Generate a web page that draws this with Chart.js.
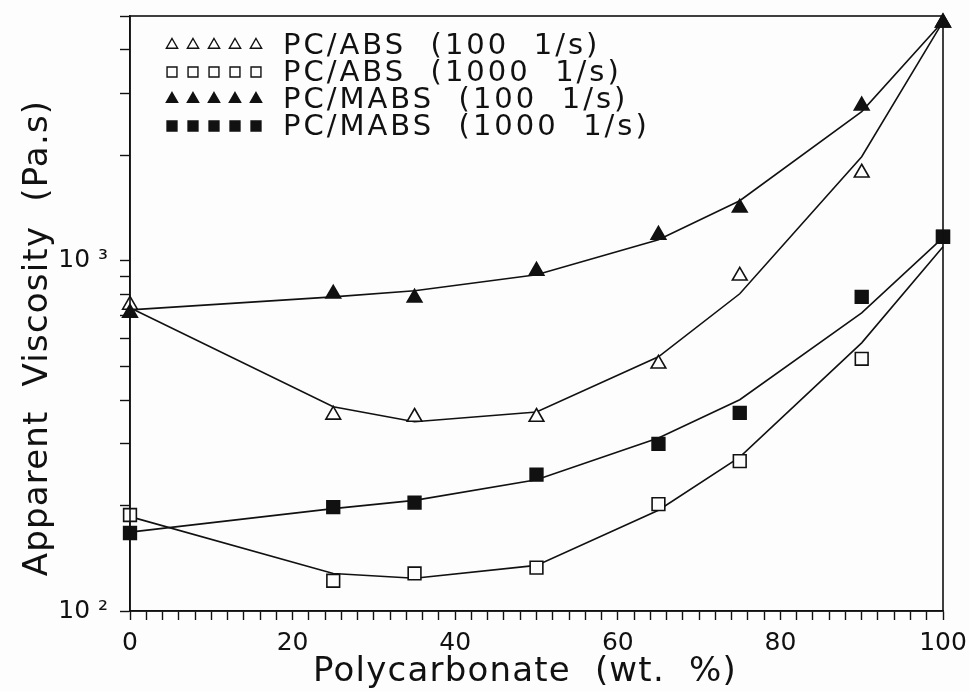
<!DOCTYPE html>
<html>
<head>
<meta charset="utf-8">
<script src="https://cdn.jsdelivr.net/npm/chart.js@4.4.1/dist/chart.umd.min.js"></script>
<style>
  body { margin: 0; background: #fdfdfd; }
  canvas { display: block; }
</style>
</head>
<body>
<canvas id="chart" width="970" height="691"></canvas>
<script>
// ---- values ---- //
const pcWt = [0, 25, 35, 50, 65, 75, 90, 100];

// measured points
const absLow   = [748, 363, 358, 358, 508, 906, 1784, 4786];    // PC/ABS 100 1/s
const absHigh  = [188, 122, 128, 133, 202, 268, 525, 1170];     // PC/ABS 1000 1/s
const mabsLow  = [710, 805, 784, 936, 1186, 1417, 2773, 4786];  // PC/MABS 100 1/s
const mabsHigh = [167, 198, 204, 245, 300, 368, 789, 1172];     // PC/MABS 1000 1/s

// fitted curves
const absLowFit   = [734, 383, 347, 370, 532, 805, 1982, 4820];
const absHighFit  = [186, 128, 124, 135, 194, 275, 583, 1096];
const mabsLowFit  = [724, 789, 821, 912, 1148, 1484, 2666, 4820];
const mabsHighFit = [168, 196, 207, 237, 312, 401, 710, 1164];

const seriesLabels = ["PC/ABS  (100  1/s)", "PC/ABS  (1000  1/s)", "PC/MABS  (100  1/s)", "PC/MABS  (1000  1/s)"];
const xTickLabels = [0, 20, 40, 60, 80, 100];
const yTickValues = [100, 200, 300, 400, 500, 600, 700, 800, 900, 1000, 2000, 3000, 4000, 5000];
const yTickLabels = { 100: "10 \u00b2", 1000: "10 \u00b3" };

const FONT = "DejaVu Sans";
const INK = "#111";

const pts = arr => arr.map((v, i) => ({ x: pcWt[i], y: v }));

// filled markers sit on top of the open ones where they overlap (x = 100)
function markerSet(label, values, style, filled, r) {
  return {
    label: label,
    data: pts(values),
    showLine: false,
    clip: false,
    pointStyle: style,
    pointRadius: r,
    pointBorderWidth: 1.6,
    pointBorderColor: INK,
    pointBackgroundColor: filled ? INK : "#fdfdfd",
    order: filled ? 0 : 1
  };
}

function fitLine(values) {
  return {
    data: pts(values),
    showLine: true,
    clip: false,
    borderColor: INK,
    borderWidth: 1.6,
    pointRadius: 0,
    tension: 0,
    fill: false,
    order: 2
  };
}

// --- legend with five repeated markers per row --- //
const rowLegend = {
  id: "rowLegend",
  afterDraw(chart) {
    const ctx = chart.ctx;
    ctx.save();
    for (let i = 0; i < 4; i++) {
      const ds = chart.data.datasets[i];
      const y = 45 + i * 27;
      ctx.fillStyle = ds.pointBackgroundColor;
      ctx.strokeStyle = INK;
      ctx.lineWidth = 1.4;
      for (let k = 0; k < 5; k++) {
        Chart.helpers.drawPoint(ctx, {
          pointStyle: ds.pointStyle,
          radius: ds.pointStyle === "rect" ? 7 : 6.5,
          borderWidth: 1.4,
          rotation: 0
        }, 172 + k * 21, y);
      }
      ctx.fillStyle = INK;
      ctx.font = "29px '" + FONT + "'";
      ctx.letterSpacing = "3px";
      ctx.textBaseline = "middle";
      ctx.textAlign = "left";
      ctx.fillText(ds.label, 283, y + 1);
    }
    ctx.restore();
  }
};

// --- frame and axis titles --- //
const frame = {
  id: "frame",
  afterDraw(chart) {
    const { ctx, chartArea: a } = chart;
    ctx.save();
    ctx.strokeStyle = INK;
    ctx.lineWidth = 1.6;
    ctx.strokeRect(a.left, a.top, a.right - a.left, a.bottom - a.top);

    ctx.fillStyle = INK;
    ctx.font = "34px '" + FONT + "'";
    ctx.letterSpacing = "1.2px";
    ctx.textAlign = "center";
    ctx.textBaseline = "middle";
    ctx.fillText("Polycarbonate  (wt.  %)", 525, 672);

    ctx.translate(38, 338);
    ctx.rotate(-Math.PI / 2);
    ctx.fillText("Apparent  Viscosity  (Pa.s)", 0, 0);
    ctx.restore();
  }
};

new Chart(document.getElementById("chart"), {
  type: "scatter",
  data: {
    datasets: [
      markerSet(seriesLabels[0], absLow, "triangle", false, 8.5),
      markerSet(seriesLabels[1], absHigh, "rect", false, 9),
      markerSet(seriesLabels[2], mabsLow, "triangle", true, 8.5),
      markerSet(seriesLabels[3], mabsHigh, "rect", true, 9),
      fitLine(absLowFit),
      fitLine(absHighFit),
      fitLine(mabsLowFit),
      fitLine(mabsHighFit)
    ]
  },
  options: {
    responsive: false,
    animation: false,
    layout: { padding: { top: 16, right: 27, left: 0, bottom: 0 } },
    plugins: { legend: { display: false }, tooltip: { enabled: false } },
    scales: {
      x: {
        type: "linear",
        min: 0,
        max: 100,
        afterBuildTicks(scale) {
          const t = [];
          for (let v = 0; v <= 100; v += 2) t.push({ value: v });
          scale.ticks = t;
        },
        afterFit(scale) {
          scale.height = 80;
          scale.paddingLeft = 0;
          scale.paddingRight = 0;
        },
        grid: { drawOnChartArea: false, tickLength: 9, tickColor: INK, tickWidth: 1.4 },
        border: { display: true, color: INK, width: 1.6 },
        ticks: {
          autoSkip: false,
          maxRotation: 0,
          padding: 8,
          color: INK,
          font: { family: FONT, size: 25 },
          callback: v => xTickLabels.includes(v) ? String(v) : ""
        }
      },
      y: {
        type: "logarithmic",
        min: 100,
        max: 5000,
        afterBuildTicks(scale) {
          scale.ticks = yTickValues.map(v => ({ value: v }));
        },
        afterFit(scale) {
          scale.width = 130;
          scale.paddingTop = 0;
          scale.paddingBottom = 0;
        },
        grid: { drawOnChartArea: false, tickLength: 10, tickColor: INK, tickWidth: 1.4 },
        border: { display: true, color: INK, width: 1.6 },
        ticks: {
          autoSkip: false,
          padding: 12,
          color: INK,
          font: { family: FONT, size: 25 },
          callback: v => yTickLabels[v] || ""
        }
      }
    }
  },
  plugins: [rowLegend, frame]
});
</script>
</body>
</html>
